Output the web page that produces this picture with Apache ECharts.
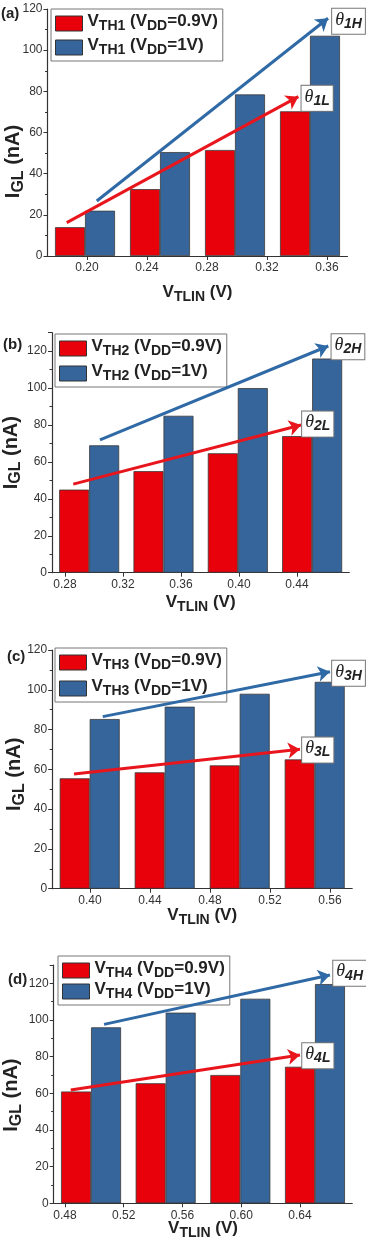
<!DOCTYPE html>
<html>
<head>
<meta charset="utf-8">
<script src="https://cdn.jsdelivr.net/npm/echarts@6/dist/echarts.min.js"></script>
<style>
html, body { margin: 0; padding: 0; background: #fff; }
#chart { width: 366px; height: 1246px; }
</style>
</head>
<body>
<div id="chart"></div>
<script>
// ---- values ----
const groups = ['1', '2', '3', '4'];

// V_TLIN tick labels of each panel
const vtlinA = [0.20, 0.24, 0.28, 0.32, 0.36];
const vtlinB = [0.28, 0.32, 0.36, 0.40, 0.44];
const vtlinC = [0.40, 0.44, 0.48, 0.52, 0.56];
const vtlinD = [0.48, 0.52, 0.56, 0.60, 0.64];

// I_GL (nA), VDD = 0.9V (red) and VDD = 1V (blue)
const iglA09 = [14, 32.5, 51.5, 70.3];
const iglA10 = [22, 50.5, 78.5, 107];
const iglB09 = [45, 55, 64.7, 74];
const iglB10 = [69, 85, 100, 116];
const iglC09 = [55.5, 58.5, 62, 65];
const iglC10 = [85.3, 91.5, 98, 104];
const iglD09 = [61, 65.5, 70, 74.5];
const iglD10 = [96, 104, 111.6, 119.6];

// trend arrows [start, end] in (V_TLIN, I_GL) units: [high, low]
const trendA = [[[0.2065, 26.7], [0.3607, 115.5]], [[0.1865, 16.2], [0.3409, 77.4]]];
const trendB = [[[0.3041, 71.9], [0.4616, 122.8]], [[0.2857, 48.0], [0.4428, 80.0]]];
const trendC = [[[0.4085, 86.5], [0.5600, 109.1]], [[0.3893, 57.7], [0.5400, 70.1]]];
const trendD = [[[0.5066, 97.6], [0.6604, 124.5]], [[0.4839, 61.8], [0.6400, 80.9]]];

// theta tags (left edge of the box): [high, low]
const thetaA = [[0.3631, 114.0], [0.3427, 76.6]];
const thetaB = [[0.4635, 122.4], [0.4432, 80.5]];
const thetaC = [[0.5611, 108.3], [0.5411, 69.7]];
const thetaD = [[0.6623, 125.5], [0.6412, 80.5]];

const panels = [
  { k: 1, tag: '(a)', ticks: vtlinA, low: iglA09, high: iglA10, trend: trendA, theta: thetaA },
  { k: 2, tag: '(b)', ticks: vtlinB, low: iglB09, high: iglB10, trend: trendB, theta: thetaB },
  { k: 3, tag: '(c)', ticks: vtlinC, low: iglC09, high: iglC10, trend: trendC, theta: thetaC },
  { k: 4, tag: '(d)', ticks: vtlinD, low: iglD09, high: iglD10, trend: trendD, theta: thetaD }
];

// ---- layout of the four panels ----
const layout = [
  { left: 47.5, right: 18.5, top: 9, height: 247, xMin: 0.173667, xMax: 0.373667, yMax: 120,
    legLeft: 51, legTop: 9, legGap: 4, tagLeft: 1, tagTop: 6, xNameGap: 29, yNameGap: 21, yShift: 29 },
  { left: 52, right: 16.7, top: 332.7, height: 240, xMin: 0.271034, xMax: 0.476069, yMax: 130,
    legLeft: 55, legTop: 334, legGap: 5, tagLeft: 3, tagTop: 337.5, xNameGap: 22, yNameGap: 28, yShift: 0 },
  { left: 52.2, right: 13.8, top: 650, height: 238.7, xMin: 0.3748, xMax: 0.5748, yMax: 120,
    legLeft: 55, legTop: 648, legGap: 6, tagLeft: 7, tagTop: 649, xNameGap: 19, yNameGap: 25, yShift: 5 },
  { left: 53.7, right: 13.7, top: 965, height: 238.3, xMin: 0.472306, xMax: 0.675612, yMax: 130,
    legLeft: 58, legTop: 956, legGap: 1, tagLeft: 8, tagTop: 972, xNameGap: 18, yNameGap: 29.5, yShift: 11 }
];

const FONT = 'Liberation Sans, Arial, sans-serif';
const INK = '#222';
const RED = '#e8000b', BLUE = '#35659b';
const ARROW_RED = '#e8161c', ARROW_BLUE = '#2f6aa6';

const subRich = (big, small, drop) => ({
  v: { fontFamily: FONT, fontWeight: 'bold', fontSize: big, color: INK, lineHeight: big + 2,
       padding: [0, 0, drop, 0], verticalAlign: 'bottom' },
  s: { fontFamily: FONT, fontWeight: 'bold', fontSize: small, color: INK, lineHeight: small + 2,
       verticalAlign: 'bottom' }
});

const thetaRich = {
  t: { fontFamily: 'Liberation Serif, DejaVu Serif, serif', fontStyle: 'italic', fontSize: 18,
       color: INK, lineHeight: 18, padding: [0, 0, 2, 0], verticalAlign: 'bottom' },
  s: { fontFamily: FONT, fontStyle: 'italic', fontWeight: 'bold', fontSize: 14, color: INK,
       lineHeight: 15, verticalAlign: 'bottom' }
};

const grid = [], xAxis = [], yAxis = [], series = [], legend = [], title = [];

panels.forEach((p, i) => {
  const L = layout[i];
  const lowName = `VTH${p.k} (VDD=0.9V)`;
  const highName = `VTH${p.k} (VDD=1V)`;

  grid.push({ left: L.left, right: L.right, top: L.top, height: L.height,
              outerBoundsMode: 'none', containLabel: false });

  // category axis that places the bar groups
  xAxis.push({ type: 'category', gridIndex: i, data: groups, show: false });
  // V_TLIN axis with the printed ticks
  xAxis.push({
    type: 'value', gridIndex: i, position: 'bottom', min: L.xMin, max: L.xMax,
    splitLine: { show: false },
    axisLine: { show: true, onZero: false, lineStyle: { color: '#333', width: 1.2 } },
    axisTick: { show: true, customValues: p.ticks, length: 4, lineStyle: { color: '#333' } },
    axisLabel: { customValues: p.ticks, formatter: v => v.toFixed(2), fontFamily: FONT,
                 fontSize: 12, color: '#333', margin: 6 },
    name: '{v|V}{s|TLIN}{v| (V)}', nameLocation: 'middle', nameGap: L.xNameGap,
    nameMoveOverlap: false,
    nameTextStyle: { rich: subRich(17, 14, 3) }
  });

  yAxis.push({
    type: 'value', gridIndex: i, min: 0, max: L.yMax, interval: 20,
    splitLine: { show: false },
    axisLine: { show: true, lineStyle: { color: '#333', width: 1.2 } },
    axisTick: { show: true, length: 4, lineStyle: { color: '#333' } },
    minorTick: { show: true, splitNumber: 2, length: 2.5, lineStyle: { color: '#333' } },
    axisLabel: { fontFamily: FONT, fontSize: 12, color: '#333', margin: 5,
                 showMaxLabel: L.yMax === 120 },
    name: '{v|I}{s|GL}{v| (nA)}', nameLocation: 'middle', nameGap: L.yNameGap,
    nameMoveOverlap: false,
    nameTextStyle: { rich: subRich(20, 16, 3), padding: [0, 2 * L.yShift, 0, 0] }
  });

  const barStyle = c => ({ color: c, borderColor: '#3a3a3a', borderWidth: 0.8 });
  series.push({ name: lowName, type: 'bar', xAxisIndex: 2 * i, yAxisIndex: i, data: p.low,
                barWidth: 30, barGap: '0%', itemStyle: barStyle(RED), silent: true });
  series.push({ name: highName, type: 'bar', xAxisIndex: 2 * i, yAxisIndex: i, data: p.high,
                barWidth: 30, barGap: '0%', itemStyle: barStyle(BLUE), silent: true });

  series.push({
    type: 'lines', coordinateSystem: 'cartesian2d', xAxisIndex: 2 * i + 1, yAxisIndex: i,
    symbol: ['none', 'arrow'], symbolSize: 12, silent: true, z: 5,
    lineStyle: { width: 3, opacity: 1, curveness: 0 },
    data: [
      { coords: p.trend[0], lineStyle: { color: ARROW_BLUE, width: 3, opacity: 1 } },
      { coords: p.trend[1], lineStyle: { color: ARROW_RED, width: 3, opacity: 1 } }
    ]
  });

  series.push({
    type: 'scatter', xAxisIndex: 2 * i + 1, yAxisIndex: i, symbolSize: 1, silent: true, z: 6,
    itemStyle: { color: 'rgba(0,0,0,0)', opacity: 1 },
    label: { show: true, position: 'right', distance: 0, backgroundColor: '#ffffff',
             borderColor: '#777', borderWidth: 1, padding: [4, 3, 3, 3], opacity: 1,
             rich: thetaRich },
    data: p.theta.map((c, j) => ({ value: c,
      label: { formatter: `{t|θ}{s|${p.k}${j ? 'L' : 'H'}}` } }))
  });

  legend.push({
    data: [lowName, highName], orient: 'vertical', left: L.legLeft, top: L.legTop,
    itemWidth: 27, itemHeight: 15, itemGap: L.legGap, padding: [4, 5, 4, 4],
    borderColor: '#777', borderWidth: 1, backgroundColor: '#fff', selectedMode: false,
    icon: 'rect', itemStyle: { borderColor: '#333', borderWidth: 1 },
    textStyle: { rich: subRich(17, 14, 3) },
    formatter: n => n.replace(/^V(TH\d) \(V(DD)=(.*)\)$/, '{v|V}{s|$1}{v| (V}{s|$2}{v|=$3)}')
  });

  title.push({ text: p.tag, left: L.tagLeft, top: L.tagTop, padding: 0,
               textStyle: { fontFamily: FONT, fontWeight: 'bold', fontSize: 15, color: INK } });
});

const chart = echarts.init(document.getElementById('chart'), null, { renderer: 'canvas' });
chart.setOption({
  backgroundColor: '#fff',
  animation: false,
  title, grid, xAxis, yAxis, legend, series
});
</script>
</body>
</html>
